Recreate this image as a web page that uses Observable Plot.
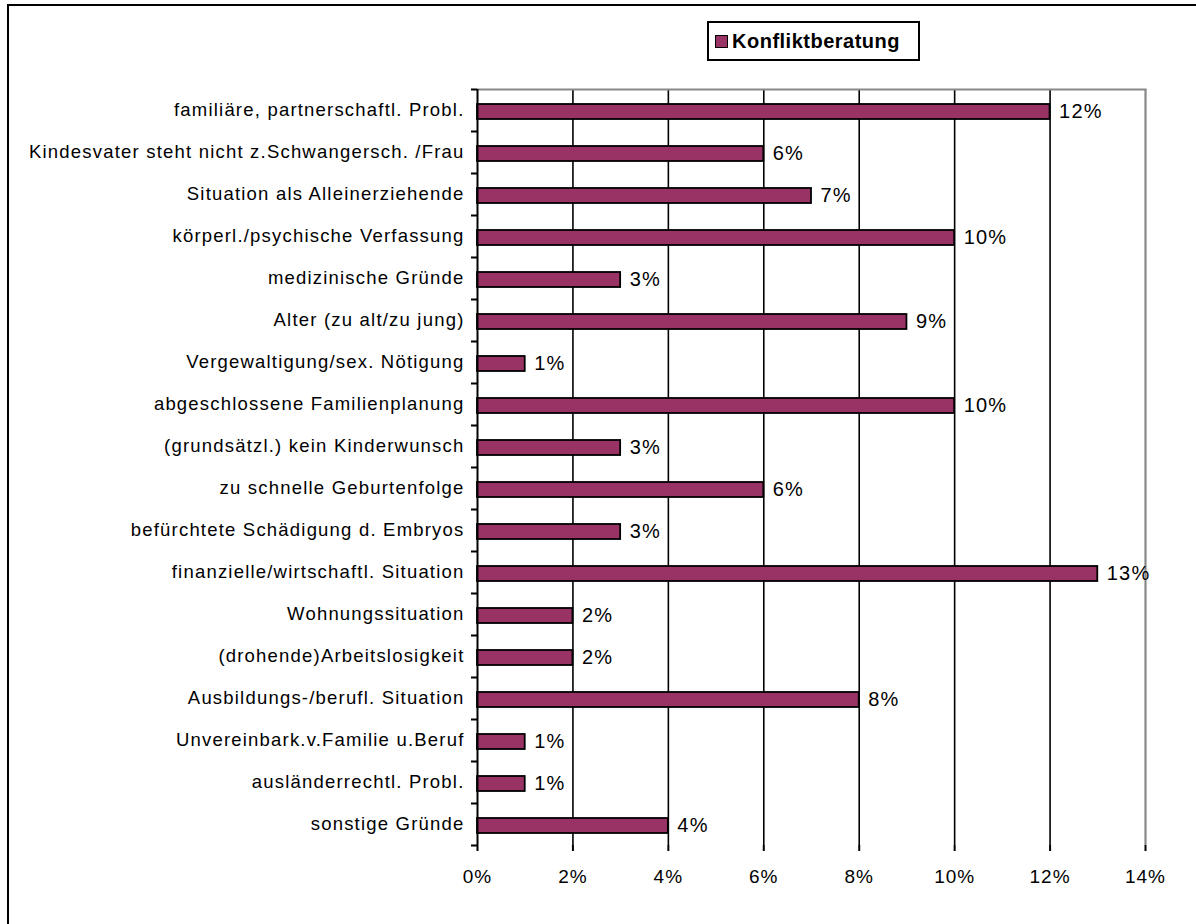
<!DOCTYPE html>
<html>
<head>
<meta charset="utf-8">
<script src="https://cdn.jsdelivr.net/npm/d3@7"></script>
<script src="https://cdn.jsdelivr.net/npm/@observablehq/plot@0.6"></script>
<style>
  html, body { margin: 0; padding: 0; background: #fff; }
  body { width: 1196px; height: 924px; overflow: hidden; font-family: "Liberation Sans", Arial, sans-serif; }
  #wrap { position: relative; width: 1196px; height: 924px; }
  #frame { position: absolute; left: 7px; top: 4px; width: 1200px; height: 930px; border-left: 2px solid #000; border-top: 2px solid #000; box-sizing: border-box; }
  #chart { position: absolute; left: 0; top: 0; }
  #legend { position: absolute; left: 707px; top: 21px; width: 213px; height: 40px; border: 2px solid #000; box-sizing: border-box; background: #fff; display: flex; align-items: center; }
  #legend .sw { width: 13px; height: 13px; background: #993366; border: 1.5px solid #000; margin-left: 6px; margin-right: 4px; box-sizing: border-box; }
  #legend .lb { font-weight: bold; font-size: 20px; letter-spacing: 0.5px; color: #000; }
  #chart g[aria-label="y-axis tick label"] { letter-spacing: 1.2px; }
  #chart g[aria-label="x-axis tick label"] { letter-spacing: 1px; }
  #chart g[aria-label="text"] { letter-spacing: 1.2px; }
</style>
</head>
<body>
<div id="wrap">
  <div id="frame"></div>
  <div id="chart"></div>
  <div id="legend"><div class="sw"></div><div class="lb">Konfliktberatung</div></div>
</div>
<script>
const categories = [
  "familiäre, partnerschaftl. Probl.",
  "Kindesvater steht nicht z.Schwangersch. /Frau",
  "Situation als Alleinerziehende",
  "körperl./psychische Verfassung",
  "medizinische Gründe",
  "Alter (zu alt/zu jung)",
  "Vergewaltigung/sex. Nötigung",
  "abgeschlossene Familienplanung",
  "(grundsätzl.) kein Kinderwunsch",
  "zu schnelle Geburtenfolge",
  "befürchtete Schädigung d. Embryos",
  "finanzielle/wirtschaftl. Situation",
  "Wohnungssituation",
  "(drohende)Arbeitslosigkeit",
  "Ausbildungs-/berufl. Situation",
  "Unvereinbark.v.Familie u.Beruf",
  "ausländerrechtl. Probl.",
  "sonstige Gründe"
];
const values = [12, 6, 7, 10, 3, 9, 1, 10, 3, 6, 3, 13, 2, 2, 8, 1, 1, 4];
const xTicks = [0, 2, 4, 6, 8, 10, 12, 14];
const seriesName = "Konfliktberatung";

const data = categories.map((c, i) => ({cat: c, value: values[i]}));
const lastCat = categories[categories.length - 1];

const chart = Plot.plot({
  width: 1196,
  height: 924,
  marginLeft: 477,
  marginRight: 51,
  marginTop: 89,
  marginBottom: 79,
  style: {fontFamily: "'Liberation Sans', Arial, sans-serif", background: "transparent", color: "#000"},
  x: {domain: [0, 14], ticks: xTicks, tickFormat: d => d + "%"},
  y: {domain: categories, paddingInner: 0, paddingOuter: 0},
  marks: [
    Plot.ruleX(xTicks.filter(t => t > 0 && t < 14), {stroke: "#000", strokeWidth: 1.6}),
    Plot.ruleX([14], {stroke: "#888", strokeWidth: 2.2}),
    Plot.frame({anchor: "top", stroke: "#888", strokeWidth: 2}),
    Plot.barX(data, {x: "value", y: "cat", fill: "#993366", stroke: "#000", strokeWidth: 1.8, insetTop: 15, insetBottom: 12}),
    Plot.text(data, {x: "value", y: "cat", text: d => d.value + "%", textAnchor: "start", dx: 9, dy: 1.5, fontSize: 20, fill: "#000"}),
    Plot.ruleX([0], {stroke: "#000", strokeWidth: 2}),
    Plot.ruleY([0], {stroke: "#000", strokeWidth: 2, x1: 0, x2: 14}),
    Plot.ruleY(categories, {y: d => d, x1: 0, x2: 0, insetLeft: -6, dy: -21, stroke: "#000", strokeWidth: 2}),
    Plot.ruleY([lastCat], {y: d => d, x1: 0, x2: 0, insetLeft: -6, dy: 21, stroke: "#000", strokeWidth: 2}),
    Plot.axisY({tickSize: 0, tickPadding: 13, fontSize: 18.5, label: null}),
    Plot.axisX({ticks: xTicks, tickFormat: d => d + "%", tickSize: 6, tickPadding: 18, fontSize: 19, label: null, stroke: "#000", strokeWidth: 2})
  ]
});
document.getElementById("chart").appendChild(chart);
</script>
</body>
</html>
